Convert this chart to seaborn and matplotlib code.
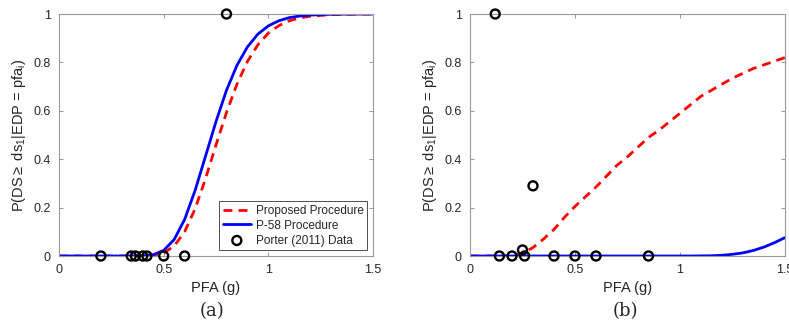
import numpy as np
import pandas as pd
import matplotlib
matplotlib.use("Agg")
import matplotlib.pyplot as plt
import seaborn as sns

# ==========================================================
# DATA
# ==========================================================

# panel (a) fragility curves
pfa_a = [0.0, 0.3, 0.4, 0.45, 0.5, 0.55, 0.6, 0.65, 0.7, 0.75, 0.8, 0.85, 0.9,
         0.95, 1.0, 1.05, 1.1, 1.15, 1.2, 1.3, 1.4, 1.5]
proposed_a = [0.0, 0.0, 0.0003, 0.0026, 0.0126, 0.041, 0.100, 0.195, 0.32, 0.459,
              0.593, 0.71, 0.804, 0.873, 0.921, 0.952, 0.972, 0.984, 0.991,
              0.9974, 0.9993, 1.0]
p58_a = [0.0, 0.0, 0.0008, 0.0054, 0.023, 0.068, 0.151, 0.271, 0.413, 0.556,
         0.685, 0.788, 0.864, 0.917, 0.951, 0.972, 0.985, 0.9916, 0.9956,
         0.9988, 0.9997, 1.0]

# panel (a) Porter (2011) observations
porter_x_a = [0.2, 0.345, 0.365, 0.4, 0.42, 0.5, 0.6, 0.8]
porter_y_a = [0, 0, 0, 0, 0, 0, 0, 1]

# panel (b) fragility curves
pfa_b = [0.0, 0.15, 0.2, 0.25, 0.3, 0.35, 0.4, 0.45, 0.5, 0.55, 0.6, 0.65, 0.7,
         0.75, 0.8, 0.85, 0.9, 0.95, 1.0, 1.05, 1.1, 1.15, 1.2, 1.25, 1.3,
         1.35, 1.4, 1.45, 1.5]
proposed_b = [0.0, 0.0, 0.002, 0.01, 0.035, 0.07, 0.11, 0.16, 0.205, 0.245,
              0.285, 0.33, 0.375, 0.41, 0.45, 0.49, 0.52, 0.555, 0.59, 0.625,
              0.66, 0.685, 0.71, 0.735, 0.755, 0.775, 0.79, 0.805, 0.82]
p58_b = [0.0, 0.0, 0.0, 0.0, 0.0, 0.0, 0.0, 0.0, 0.0, 0.0, 0.0, 0.0, 0.0,
         0.0, 0.0, 0.0, 0.0, 0.0, 0.0, 0.0, 0.0005, 0.001, 0.003, 0.007,
         0.013, 0.023, 0.037, 0.055, 0.076]

porter_x_b = [0.12, 0.14, 0.2, 0.25, 0.26, 0.3, 0.4, 0.5, 0.6, 0.85]
porter_y_b = [1, 0, 0, 0.025, 0, 0.29, 0, 0, 0, 0]

x_ticks = [0, 0.5, 1, 1.5]
x_ticklabels = ["0", "0.5", "1", "1.5"]
y_ticks = [0, 0.2, 0.4, 0.6, 0.8, 1]
y_ticklabels = ["0", "0.2", "0.4", "0.6", "0.8", "1"]

# ==========================================================
# STYLE
# ==========================================================

sns.set_style("ticks")
plt.rcParams["font.family"] = ["Liberation Sans", "DejaVu Sans"]
plt.rcParams["mathtext.fontset"] = "custom"
plt.rcParams["mathtext.rm"] = "Liberation Sans"
plt.rcParams["mathtext.it"] = "Liberation Sans"

fig = plt.figure(figsize=(7.89, 3.28), dpi=100)
ax_a = fig.add_axes([0.0748, 0.2195, 0.398, 0.7378])
ax_b = fig.add_axes([0.5957, 0.2195, 0.3992, 0.7378])

ylab = r"P(DS$\geq$ ds$_1$|EDP = pfa$_{\mathrm{i}}$)"


def draw_panel(ax, pfa, prop, p58, px, py, legend):
    curves = pd.DataFrame({"pfa": pfa, "prop": prop, "p58": p58})
    obs = pd.DataFrame({"pfa": px, "p": py})
    sns.lineplot(data=curves, x="pfa", y="prop", ax=ax, color="#ff0000",
                 linestyle=(0, (3.2, 2.2)), linewidth=2,
                 label="Proposed Procedure")
    sns.lineplot(data=curves, x="pfa", y="p58", ax=ax, color="#0000ff",
                 linewidth=2, label="P-58 Procedure")
    sns.scatterplot(data=obs, x="pfa", y="p", ax=ax, marker="o", s=42,
                    facecolor="none", edgecolor="black", linewidth=1.7,
                    label="Porter (2011) Data", clip_on=False, zorder=5)
    ax.set_xlim(0, 1.5)
    ax.set_ylim(0, 1)
    ax.set_xticks(x_ticks)
    ax.set_xticklabels(x_ticklabels)
    ax.set_yticks(y_ticks)
    ax.set_yticklabels(y_ticklabels)
    ax.tick_params(direction="in", length=3, width=0.6, color="#888888",
                   labelsize=9, labelcolor="#262626", top=True, right=True,
                   pad=6)
    for sp in ax.spines.values():
        sp.set_color("#999999")
        sp.set_linewidth(0.8)
    ax.set_xlabel("PFA (g)", fontsize=10.5, color="#262626", labelpad=3)
    ax.set_ylabel(ylab, fontsize=10.5, color="#262626", labelpad=4)
    if legend:
        leg = ax.legend(loc="lower right", fontsize=8.5, frameon=True,
                        fancybox=False, borderaxespad=0.5, handlelength=2.4,
                        borderpad=0.3, labelspacing=0.25, handletextpad=0.4)
        leg.get_frame().set_edgecolor("#222222")
        leg.get_frame().set_linewidth(0.7)
    else:
        ax.get_legend().remove()


draw_panel(ax_a, pfa_a, proposed_a, p58_a, porter_x_a, porter_y_a, True)
draw_panel(ax_b, pfa_b, proposed_b, p58_b, porter_x_b, porter_y_b, False)

fig.text(0.2685, 0.025, "(a)", fontsize=13, family="DejaVu Serif",
         ha="center", va="bottom")
fig.text(0.793, 0.025, "(b)", fontsize=13, family="DejaVu Serif",
         ha="center", va="bottom")

fig.savefig("out.png", dpi=100)
plt.close(fig)
